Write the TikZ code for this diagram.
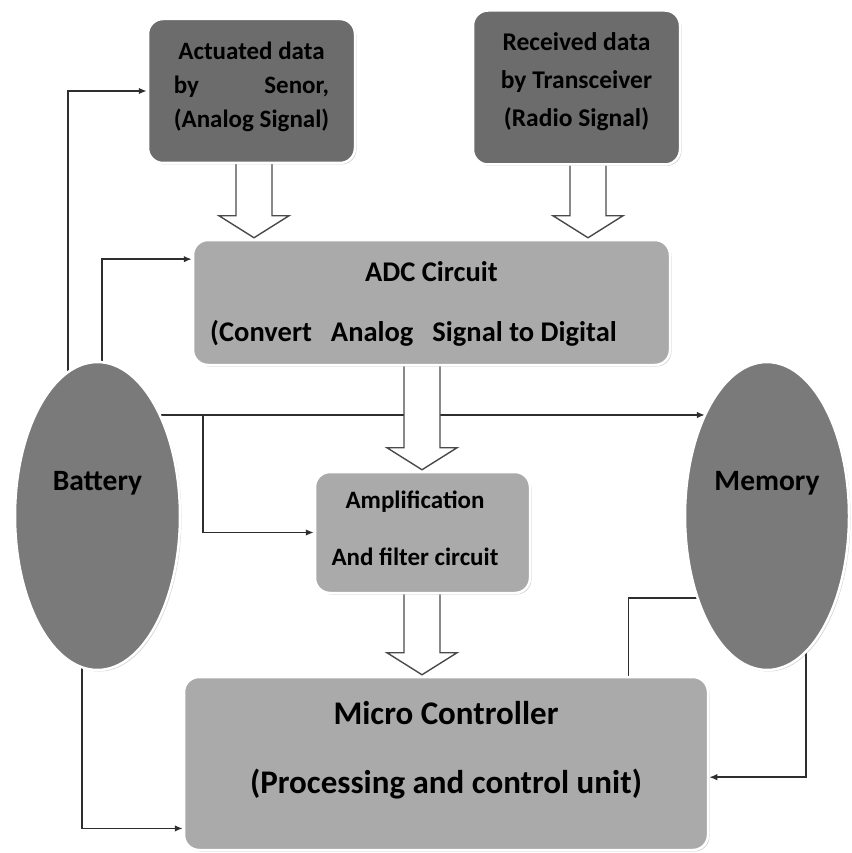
\documentclass[tikz,border=0pt]{standalone}
\usepackage{fontspec}
\usepackage{calc}
\setmainfont{Carlito}
\usetikzlibrary{shapes.geometric,arrows.meta,calc,shadows,backgrounds}
\definecolor{darkbox}{HTML}{6C6C6C}
\definecolor{lightbox}{HTML}{AAAAAA}
\definecolor{ellfill}{HTML}{7A7A7A}
\definecolor{linec}{HTML}{2E2E2E}
\definecolor{hollowc}{HTML}{4A4A4A}
\tikzset{
  boxbase/.style={rectangle, rounded corners=15pt, draw=white, line width=2.5pt, inner sep=0pt,
    drop shadow={shadow xshift=1.5pt, shadow yshift=-1.5pt, opacity=0.35}, font=\bfseries},
  darkbx/.style={boxbase, fill=darkbox},
  lightbx/.style={boxbase, fill=lightbox},
  ellbx/.style={ellipse, draw=white, line width=2.5pt, fill=ellfill, inner sep=0pt,
    drop shadow={shadow xshift=1.5pt, shadow yshift=-1.5pt, opacity=0.35}, font=\bfseries},
  conn/.style={draw=linec, line width=1.5pt},
  connarr/.style={conn, -{Latex[length=8pt,width=6.5pt]}},
  hollow/.style={draw=hollowc, fill=white, line width=1.4pt, line join=miter}
}
\newcommand\hollowarrow[3]{%
  \draw[hollow] let \p1=(#2.south), \p2=(#3.north) in
    (#1pt-18pt,\y1+6pt) -- (#1pt-18pt,\y2+23pt) -- (#1pt-35pt,\y2+23pt) -- (#1pt,\y2+1pt)
    -- (#1pt+35pt,\y2+23pt) -- (#1pt+18pt,\y2+23pt) -- (#1pt+18pt,\y1+6pt) -- cycle;}
\begin{document}
\begin{tikzpicture}[x=1pt,y=-1pt]
\useasboundingbox (0,0) rectangle (851,853);

% nodes
\node[darkbx, minimum width=207pt, minimum height=144pt] (act) at (251.5,91)
  {\raisebox{-2pt}[0pt][0pt]{\fontsize{25}{34}\selectfont\begin{tabular}{@{}c@{}}Actuated data\\ \makebox[\widthof{(Analog Signal)}]{by\hfill Senor,}\\ (Analog Signal)\end{tabular}}};
\node[darkbx, minimum width=207pt, minimum height=154pt] (recv) at (576.5,87.5)
  {\raisebox{0pt}[0pt][0pt]{\fontsize{25.5}{38}\selectfont\begin{tabular}{@{}c@{}}Received data\\ by Transceiver\\ (Radio Signal)\end{tabular}}};
\node[lightbx, minimum width=477pt, minimum height=125pt] (adc) at (431.5,302.5)
  {\raisebox{-3pt}[0pt][0pt]{\fontsize{28.5}{60}\selectfont\begin{tabular}{@{}c@{}}ADC Circuit\\ \hspace*{-36pt}(Convert\hspace{19pt}Analog\hspace{19pt}Signal to Digital\end{tabular}}};
\node[lightbx, minimum width=215pt, minimum height=121pt] (amp) at (422.5,532.5)
  {\raisebox{1pt}[0pt][0pt]{\hspace*{-15pt}\fontsize{25}{57}\selectfont\begin{tabular}{@{}c@{}}Amplification\\ And filter circuit\end{tabular}}};
\node[lightbx, minimum width=524pt, minimum height=173pt] (mc) at (446,763.5)
  {\raisebox{12pt}[0pt][0pt]{\fontsize{33}{69}\selectfont\begin{tabular}{@{}c@{}}Micro Controller\\ (Processing and control unit)\end{tabular}}};
\node[ellbx, minimum width=165pt, minimum height=308pt] (batt) at (97.5,516)
  {\raisebox{26pt}[0pt][0pt]{\fontsize{29.5}{34}\selectfont Battery}};
\node[ellbx, minimum width=164pt, minimum height=308pt] (mem) at (767,516)
  {\raisebox{26pt}[0pt][0pt]{\fontsize{29.5}{34}\selectfont Memory}};

% helper coordinates
\coordinate (bA) at (68,516);
\coordinate (bB) at (102,516);
\coordinate (bC) at (97,415);
\coordinate (j) at (203,415);
\coordinate (bD) at (82,516);
\coordinate (mA) at (767,598);
\coordinate (mB) at (806,516);
\coordinate (memP) at (mem.121.5);
\coordinate (adcL) at ($(adc.north west)!0.16!(adc.south west)$);
\coordinate (mcL) at ($(mc.north west)!0.87!(mc.south west)$);
\coordinate (mcT) at ($(mc.north west)!0.847!(mc.north east)$);
\coordinate (mcR) at ($(mc.north east)!0.578!(mc.south east)$);

\begin{scope}[on background layer]
  \draw[connarr] (bA) |- (act.west);
  \draw[connarr] (bB) |- (adcL);
  \draw[connarr] (bC) -- (bC -| memP);
  \draw[connarr] (j) |- (amp.west);
  \draw[connarr] (bD) |- (mcL);
  \draw[conn] (mA) -| (mcT);
  \draw[connarr] (mB) |- (mcR);
  \hollowarrow{254}{act}{adc}
  \hollowarrow{588}{recv}{adc}
  \hollowarrow{422}{adc}{amp}
  \hollowarrow{422}{amp}{mc}
\end{scope}
\end{tikzpicture}
\end{document}
